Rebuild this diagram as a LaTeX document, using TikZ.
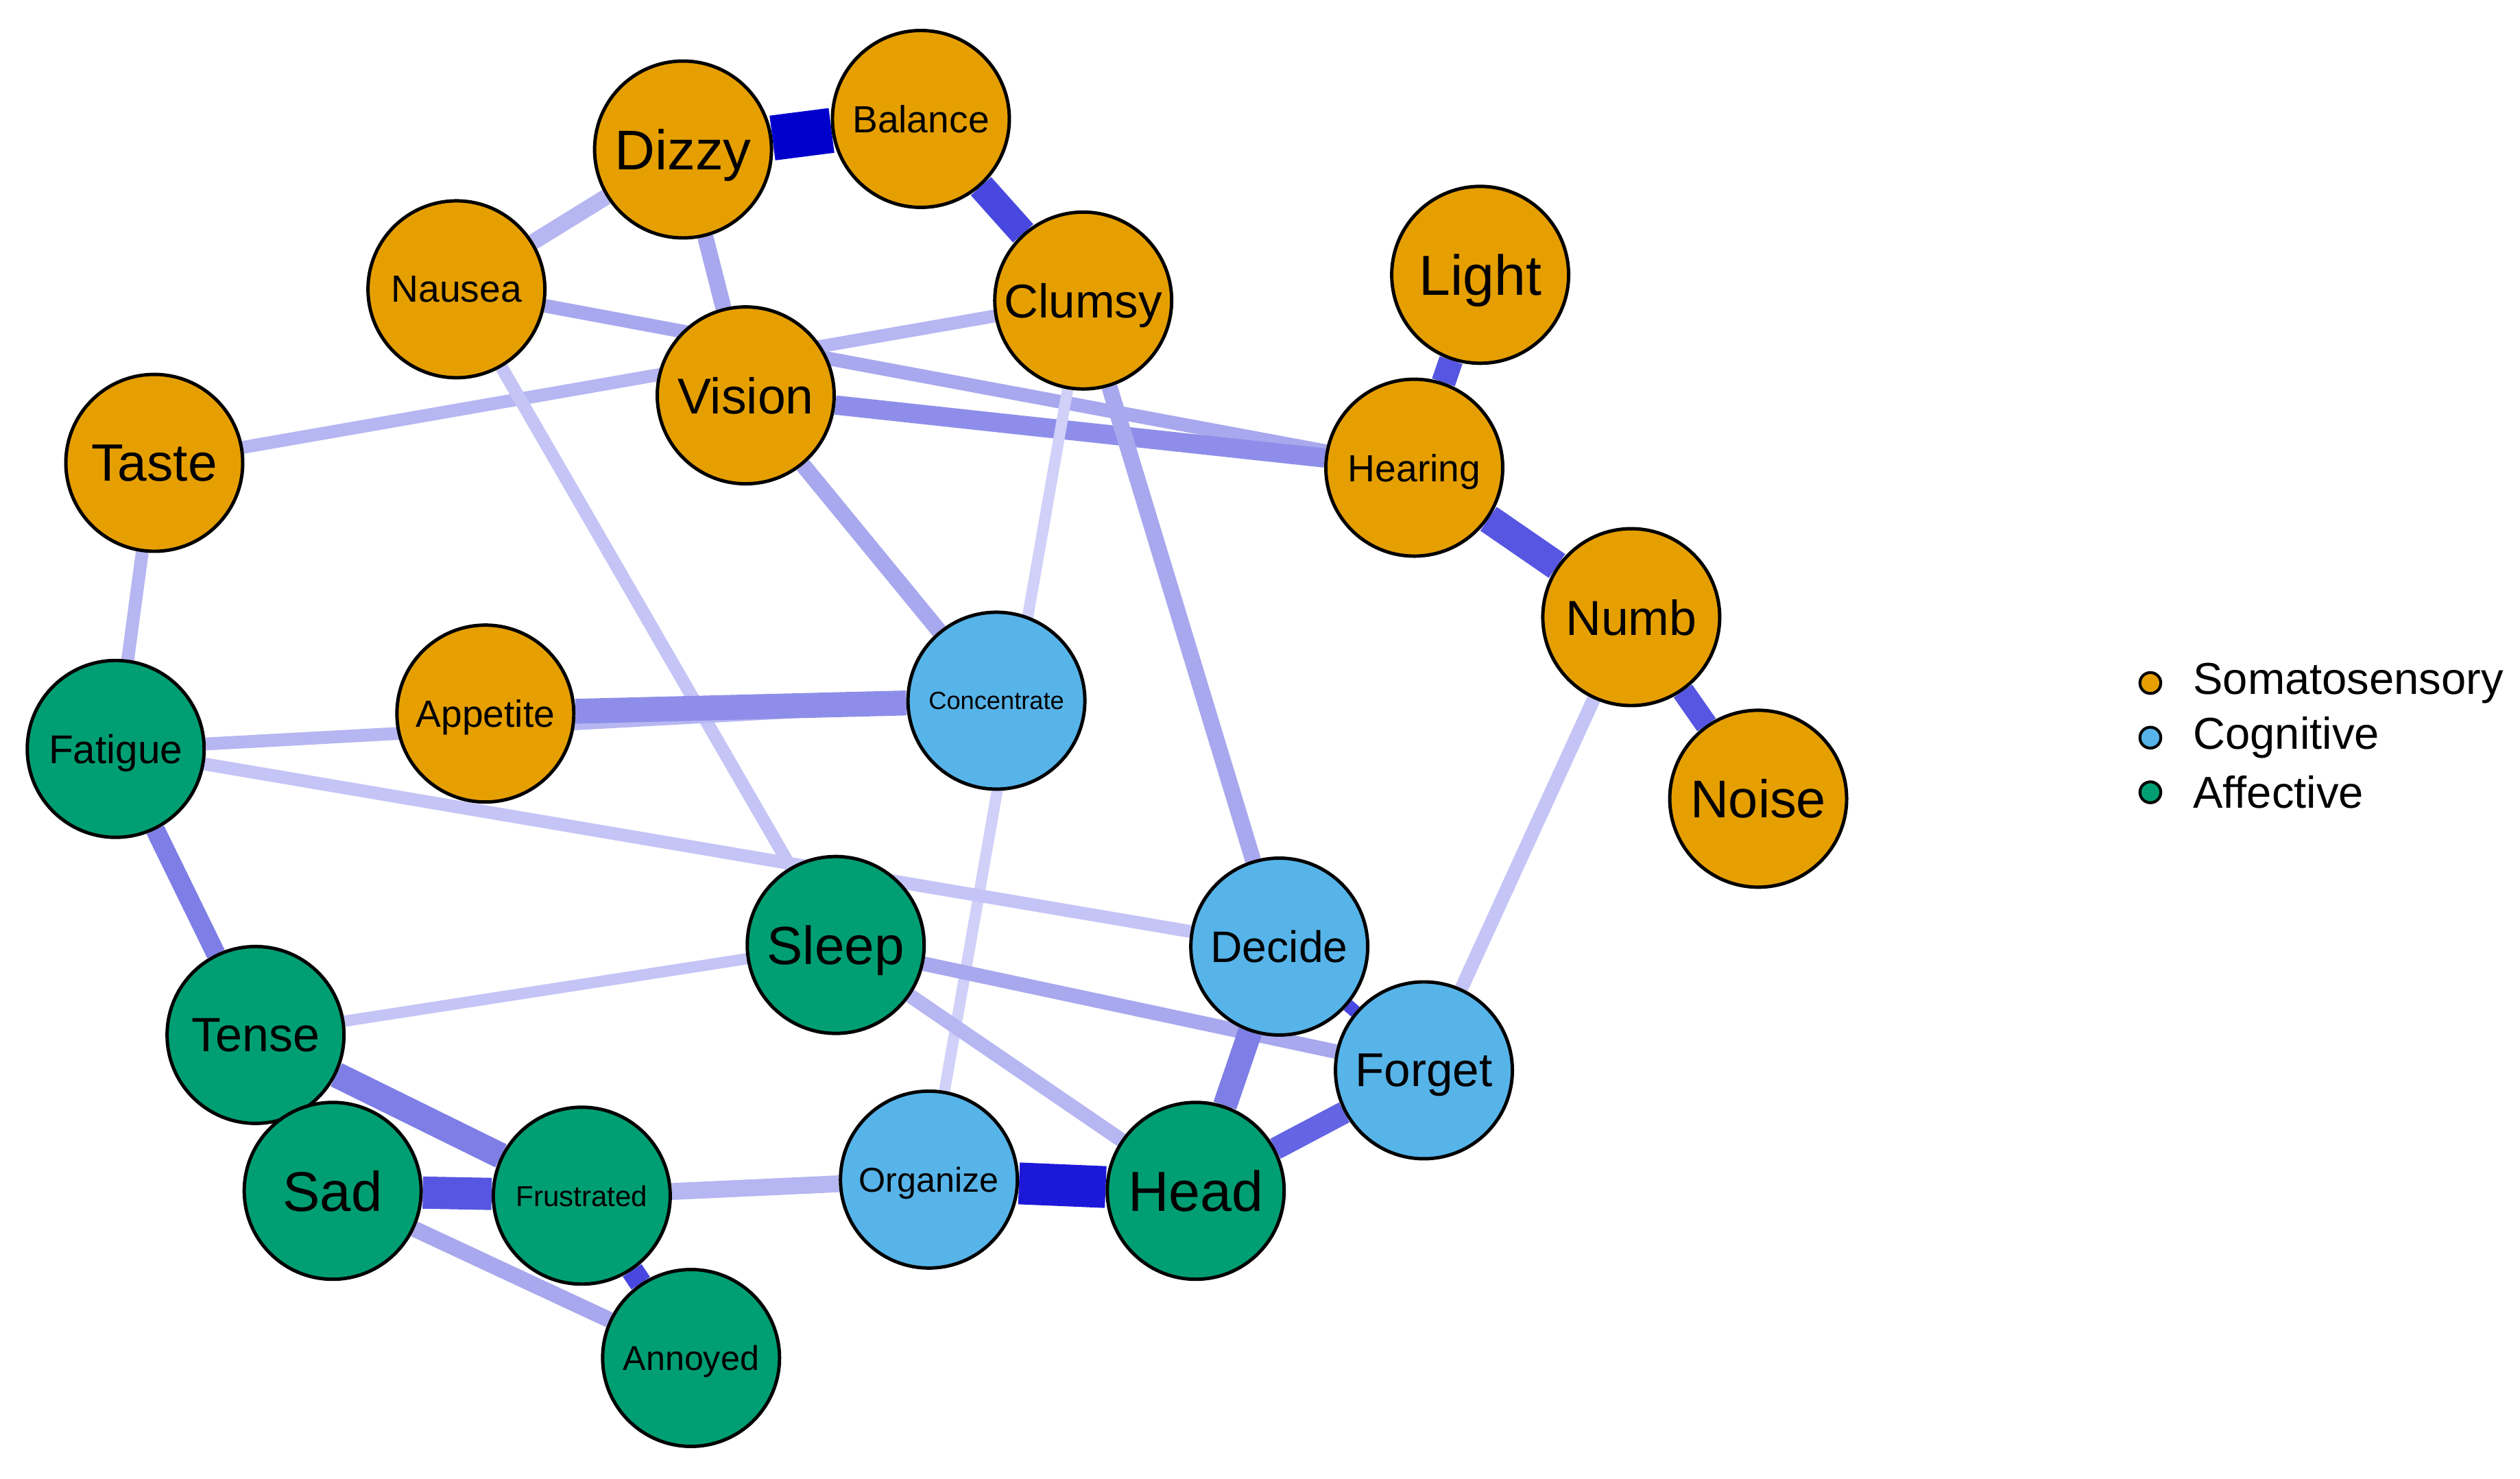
\documentclass[tikz,border=0pt]{standalone}
\usepackage{fontspec}
\setmainfont{Liberation Sans}
\usetikzlibrary{backgrounds}

\definecolor{soma}{HTML}{E69F00}
\definecolor{cogn}{HTML}{56B4E9}
\definecolor{affe}{HTML}{009E73}
\definecolor{e10}{RGB}{0,0,204}
\definecolor{e9}{RGB}{28,24,218}
\definecolor{e8}{RGB}{72,72,224}
\definecolor{e7}{RGB}{86,86,226}
\definecolor{e6}{RGB}{100,100,228}
\definecolor{e5}{RGB}{126,126,230}
\definecolor{e4}{RGB}{142,142,234}
\definecolor{e3}{RGB}{168,168,238}
\definecolor{e2}{RGB}{182,182,242}
\definecolor{e1}{RGB}{196,196,246}
\definecolor{e0}{RGB}{208,208,248}

\tikzset{
    sym/.style = {draw, circle, line width = 0.6pt, minimum size = 1.1cm,
        inner sep = 0pt, text depth = 0pt, font = \fontsize{#1}{#1}\selectfont},
    soma node/.style = {sym = #1, fill = soma},
    cogn node/.style = {sym = #1, fill = cogn},
    affe node/.style = {sym = #1, fill = affe},
    link/.style 2 args = {draw = #2, line width = #1*0.2845pt},
    key/.style = {draw, circle, line width = 0.5pt, minimum size = 0.13cm, inner sep = 0pt}
}

\begin{document}
\begin{tikzpicture}[x = 0.01cm, y = -0.01cm]
            \useasboundingbox (0, 0) rectangle (1568, 920);

            \path
                (425,  93) node (dizzy)   [soma node = 9.9] {Dizzy}
                (573,  74) node (balance) [soma node = 6.7] {Balance}
                (284, 180) node (nausea)  [soma node = 6.7] {Nausea}
                (674, 187) node (clumsy)  [soma node = 8.4] {Clumsy}
                (921, 171) node (light)   [soma node = 10]  {Light}
                (464, 246) node (vision)  [soma node = 8.9] {Vision}
                (96,  288) node (taste)   [soma node = 9.3] {Taste}
                (880, 291) node (hearing) [soma node = 6.7] {Hearing}
                (1015,384) node (numb)    [soma node = 8.7] {Numb}
                (1094,497) node (noise)   [soma node = 9.4] {Noise}
                (302, 444) node (appetite)[soma node = 6.7] {Appetite}

                (620, 436) node (concentrate) [cogn node = 4.4] {Concentrate}
                (796, 589) node (decide)      [cogn node = 7.8] {Decide}
                (886, 666) node (forget)      [cogn node = 8.4] {Forget}
                (578, 734) node (organize)    [cogn node = 6.1] {Organize}

                (72,  466) node (fatigue)    [affe node = 7.1] {Fatigue}
                (520, 588) node (sleep)      [affe node = 9.5] {Sleep}
                (159, 644) node (tense)      [affe node = 8.5] {Tense}
                (207, 741) node (sad)        [affe node = 9.9] {Sad}
                (362, 744) node (frustrated) [affe node = 5.1] {Frustrated}
                (744, 741) node (head)       [affe node = 10]  {Head}
                (430, 845) node (annoyed)    [affe node = 6.1] {Annoyed}
            ;

            \begin{scope}[on background layer]
            \path
                (dizzy)   edge[link = {28}{e10}] (balance)
                (balance) edge[link = {17}{e8}] (clumsy)
                (dizzy)   edge[link = {10}{e2}] (nausea)
                (dizzy)   edge[link = {10}{e3}] (vision)
                (nausea)  edge[link = {8.5}{e3}] (hearing)
                (vision)  edge[link = {12}{e4}] (hearing)
                (taste)   edge[link = {8}{e2}]  (clumsy)
                (clumsy)  edge[link = {10}{e3}] (decide)
                (clumsy)  edge[link = {7}{e0}]  (organize)
                (vision)  edge[link = {10}{e3}] (concentrate)
                (nausea)  edge[link = {8}{e1}]  (sleep)
                (taste)   edge[link = {8}{e2}]  (fatigue)
                (fatigue) edge[link = {8}{e2}]  (concentrate)
                (appetite) edge[link = {15.5}{e4}] (concentrate)
                (fatigue) edge[link = {8}{e1}]  (decide)
                (fatigue) edge[link = {12}{e5}] (tense)
                (tense)   edge[link = {7}{e1}]  (sleep)
                (tense)   edge[link = {16}{e5}] (frustrated)
                (sad)     edge[link = {20}{e7}] (frustrated)
                (sad)     edge[link = {10}{e3}] (annoyed)
                (frustrated) edge[link = {14}{e8}] (annoyed)
                (frustrated) edge[link = {10.5}{e2}] (organize)
                (organize) edge[link = {26}{e9}] (head)
                (sleep)   edge[link = {9}{e3}]  (forget)
                (sleep)   edge[link = {9}{e2}]  (head)
                (decide)  edge[link = {15}{e5}] (head)
                (decide)  edge[link = {8}{e8}]  (forget)
                (head)    edge[link = {14}{e6}] (forget)
                (numb)    edge[link = {8.5}{e1}] (forget)
                (light)   edge[link = {15}{e7}] (hearing)
                (hearing) edge[link = {18}{e7}] (numb)
                (numb)    edge[link = {14}{e7}] (noise)
            ;
            \end{scope}

            % legend
            \path
                (1338, 425) node (ksoma) [key, fill = soma] {}
                (1338, 459) node (kcogn) [key, fill = cogn] {}
                (1338, 493) node (kaffe) [key, fill = affe] {}
                (1364, 425) node [anchor = west, inner sep = 0pt, font = \fontsize{7.9}{7.9}\selectfont] {Somatosensory}
                (1364, 459) node [anchor = west, inner sep = 0pt, font = \fontsize{7.9}{7.9}\selectfont] {Cognitive}
                (1364, 493) node [anchor = west, inner sep = 0pt, font = \fontsize{7.9}{7.9}\selectfont] {Affective}
            ;

\end{tikzpicture}
\end{document}
